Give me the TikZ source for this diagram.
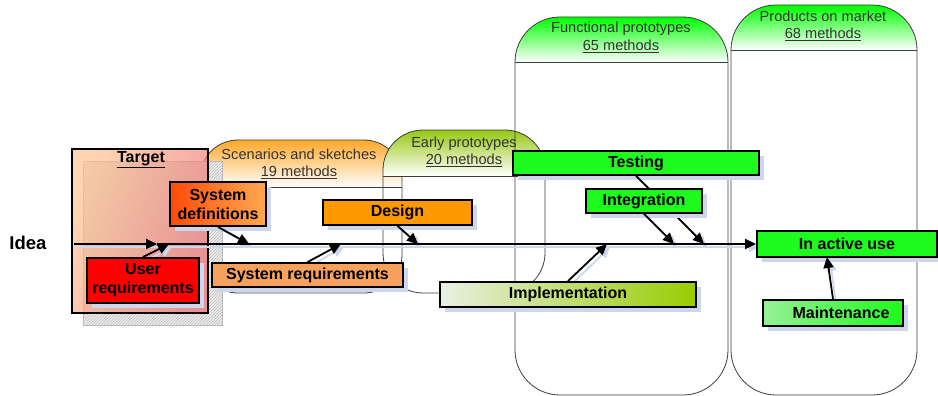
\documentclass[tikz,border=0pt]{standalone}
\usepackage{fontspec}
\setmainfont{Liberation Sans}
\usetikzlibrary{shadows,patterns,arrows.meta}
\definecolor{shc}{RGB}{205,214,234}
\definecolor{scenc}{RGB}{255,168,40}
\definecolor{earlyc}{RGB}{150,200,20}
\definecolor{funcc}{RGB}{0,255,0}
\definecolor{tpeach}{RGB}{255,195,140}
\definecolor{tpink}{RGB}{238,110,115}
\definecolor{sdleft}{RGB}{255,75,10}
\definecolor{sdright}{RGB}{255,170,80}
\definecolor{urc}{RGB}{255,0,0}
\definecolor{src}{RGB}{246,162,92}
\definecolor{dsc}{RGB}{255,153,0}
\definecolor{grc}{RGB}{30,250,30}
\definecolor{imleft}{RGB}{232,240,228}
\definecolor{immid}{RGB}{175,212,40}
\definecolor{imright}{RGB}{153,204,0}
\definecolor{mtleft}{RGB}{150,240,150}
\definecolor{linec}{RGB}{60,60,60}
\begin{document}
\begin{tikzpicture}[x=1pt,y=-1pt,
  box/.style={draw=black, line width=1.8pt, inner sep=0pt, align=center,
    font=\bfseries\fontsize{16}{19}\selectfont,
    drop shadow={shadow xshift=5pt, shadow yshift=-5pt, fill=shc, opacity=1}},
  arr/.style={line width=1.8pt, -{Triangle[length=11pt,width=10pt]}},
  arrsh/.style={line width=1.8pt, draw=shc, -{Triangle[length=11pt,width=10pt]},
    transform canvas={xshift=3pt,yshift=-3pt}},
  phase/.style={draw=linec, line width=0.8pt},
  htext/.style={font=\fontsize{14.6}{17.5}\selectfont, text=black!80, align=center}]
\useasboundingbox (0,0) rectangle (938,396);

% ---- phase shapes ----
% Scenarios and sketches
\begin{scope}
\clip[rounded corners=38pt] (200,140) rectangle (402,293);
\shade[top color=scenc, bottom color=white] (200,140) rectangle (402,187);
\end{scope}
\draw[phase, rounded corners=38pt] (200,140) rectangle (402,293);
\draw[phase] (200,187) -- (402,187);
% Early prototypes
\begin{scope}
\clip[rounded corners=40pt] (383,130) rectangle (545,293);
\shade[top color=earlyc, bottom color=white] (383,130) rectangle (545,176);
\end{scope}
\draw[phase, rounded corners=40pt] (383,130) rectangle (545,293);
\draw[phase] (383,176) -- (545,176);
% Functional prototypes
\begin{scope}
\clip[rounded corners=45pt] (515,17) rectangle (728,395);
\shade[top color=funcc, bottom color=white] (515,17) rectangle (728,62);
\end{scope}
\draw[phase, rounded corners=45pt] (515,17) rectangle (728,395);
\draw[phase] (515,62) -- (728,62);
% Products on market
\begin{scope}
\clip[rounded corners=45pt] (731,5) rectangle (917,395);
\shade[top color=funcc, bottom color=white] (731,5) rectangle (917,50);
\end{scope}
\draw[phase, rounded corners=45pt] (731,5) rectangle (917,395);
\draw[phase] (731,50) -- (917,50);

\node[htext] (scenlbl) at (299,164) {Scenarios and sketches\\\underline{19 methods}};
\node[htext] (earlylbl) at (464,152) {Early prototypes\\\underline{20 methods}};
\node[htext] (funclbl) at (621,37.5) {Functional prototypes\\\underline{65 methods}};
\node[htext] (prodlbl) at (823,26) {Products on market\\\underline{68 methods}};

% ---- Target ----
\fill[gray!12] (83,161) rectangle (222,325);
\fill[pattern=north east lines, pattern color=gray!55] (83,161) rectangle (222,325);
\draw[gray!55, line width=0.8pt] (83,161) rectangle (222,325);
\node[left color=tpeach, right color=tpink, shading angle=70, fill opacity=0.68,
  minimum width=136pt, minimum height=164pt, inner sep=0pt] (target) at (140,231) {};
\draw[black, line width=1.8pt] (target.north west) rectangle (target.south east);
\node[font=\bfseries\fontsize{16}{19}\selectfont] (targetlbl) at (141,160) {\underline{Target}};

\node[font=\bfseries\fontsize{18.5}{22}\selectfont] (idea) at (28,243) {Idea};

% ---- coordinates on the main line ----
\coordinate (ideaS) at (74,244);
\coordinate (m0) at (157,244);
\coordinate (m1) at (169,244);
\coordinate (m2) at (249,244);
\coordinate (m3) at (341,244);
\coordinate (m4) at (418,244);
\coordinate (m5) at (607,244);
\coordinate (m6) at (674,244);
\coordinate (m7) at (704,244);
\coordinate (a1) at (827,257);
\coordinate (tS) at (636,175);
\coordinate (iS) at (644,213);
\coordinate (mN) at (833,300);
\coordinate (uN) at (143,258);
\coordinate (sdS) at (218,226);
\coordinate (srN) at (307,263);
\coordinate (dS) at (397,225);
\coordinate (imN) at (568,282);
\coordinate (aW) at (757,244);

% ---- arrow shadows ----
\draw[arrsh] (ideaS) -- (aW);
\draw[arrsh] (uN) -- (m1);
\draw[arrsh] (sdS) -- (m2);
\draw[arrsh] (srN) -- (m3);
\draw[arrsh] (dS) -- (m4);
\draw[arrsh] (imN) -- (m5);
\draw[arrsh] (tS) -- (m7);
\draw[arrsh] (iS) -- (m6);
\draw[arrsh] (mN) -- (a1);

% ---- boxes ----
\node[box, left color=sdleft, right color=sdright, minimum width=96pt, minimum height=44pt] (sysdef) at (218,204) {System\\definitions};
\node[box, fill=urc, minimum width=112pt, minimum height=45pt] (userreq) at (143,280.5) {User\\requirements};
\node[box, fill=src, minimum width=191pt, minimum height=24pt] (sysreq) at (307.5,275) {System requirements};
\node[box, fill=dsc, minimum width=149pt, minimum height=25pt] (design) at (397.5,212.5) {Design};
\node[box, fill=grc, minimum width=246pt, minimum height=24pt] (testing) at (636,163) {Testing};
\node[box, left color=imleft, middle color=immid, right color=imright, minimum width=256pt, minimum height=25pt] (impl) at (568,294.5) {Implementation};
\node[box, fill=grc, minimum width=180pt, minimum height=26pt] (active) at (847,244) {In active use};
\node[box, left color=mtleft, right color=grc, minimum width=140pt, minimum height=26pt] (maint) at (833,313) {\hspace*{16pt}Maintenance};

\draw[arr] (testing.south) -- (m7);
\node[box, fill=grc, minimum width=116pt, minimum height=24pt] (integ) at (644,201) {Integration};

% ---- arrows ----
\draw[arr] (ideaS) -- (m0);
\draw[arr] (m0) -- (active.west);
\draw[arr] (userreq.north) -- (m1);
\draw[arr] (sysdef.south) -- (m2);
\draw[arr] (sysreq.north) -- (m3);
\draw[arr] (design.south) -- (m4);
\draw[arr] (impl.north) -- (m5);
\draw[arr] (integ.south) -- (m6);
\draw[arr] (maint.north) -- (a1);
\end{tikzpicture}
\end{document}
